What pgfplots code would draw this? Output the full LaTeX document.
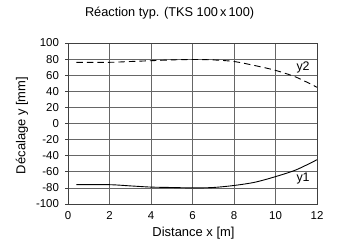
\documentclass[border=0pt]{standalone}
\usepackage{pgfplots}
\pgfplotsset{compat=1.18}
\usepackage{fontspec}
\setmainfont{Liberation Sans}
\begin{document}
\begin{tikzpicture}[x=1bp,y=1bp]
\path[use as bounding box] (-68bp,-39bp) rectangle (269bp,204bp);
\begin{axis}[
  at={(0,0)}, anchor=south west,
  scale only axis,
  width=249bp, height=161bp,
  xmin=0, xmax=12, ymin=-100, ymax=100,
  xtick={0,2,...,12},
  ytick={-100,-80,...,100},
  grid=major,
  major grid style={draw=black!60, line width=0.8pt},
  axis line style={draw=black!75, line width=0.8pt},
  xtick style={draw=none},
  ytick style={draw=black!75, line width=0.8pt},
  tick align=outside,
  major tick length=2.5bp,
  ytick pos=left,
  tick label style={font=\fontsize{11.5}{11.5}\selectfont},
  yticklabel style={xshift=-3bp},
  xticklabel style={yshift=-1.5bp},
  /pgf/number format/assume math mode=true,
  xlabel={\fontsize{13}{13}\selectfont Distance x [m]},
  ylabel={\fontsize{13}{13}\selectfont Décalage y [mm]},
  xlabel style={at={(axis description cs:0.504,-0.18)}, anchor=center},
  ylabel style={at={(axis description cs:-0.185,0.488)}, anchor=center},
  title={\fontsize{12.8}{13}\selectfont Réaction typ. (TKS 100\,x\,100)},
  title style={at={(axis description cs:0.408,1.149)}, anchor=center},
  clip=false,
]
\addplot[black, line width=0.9pt, dash pattern=on 6.5bp off 4bp, smooth] coordinates {
(0.4,76) (2,76) (3,77) (4,78) (5,79) (6,79.5) (7,79) (8,77) (9,72) (10,66) (11,57.5) (12,45)};
\addplot[black, line width=0.9pt, smooth] coordinates {
(0.4,-76) (2,-76) (3,-77.5) (4,-79) (5,-79.5) (6,-80) (7,-79.5) (8,-77) (9,-73) (10,-66) (11,-57.5) (12,-45)};
\node[font=\fontsize{12.5}{12.5}\selectfont, inner sep=0pt] at (axis cs:11.33,70.2) {y2};
\node[font=\fontsize{12.5}{12.5}\selectfont, inner sep=0pt] at (axis cs:11.33,-68.9) {y1};
\end{axis}
\end{tikzpicture}
\end{document}
